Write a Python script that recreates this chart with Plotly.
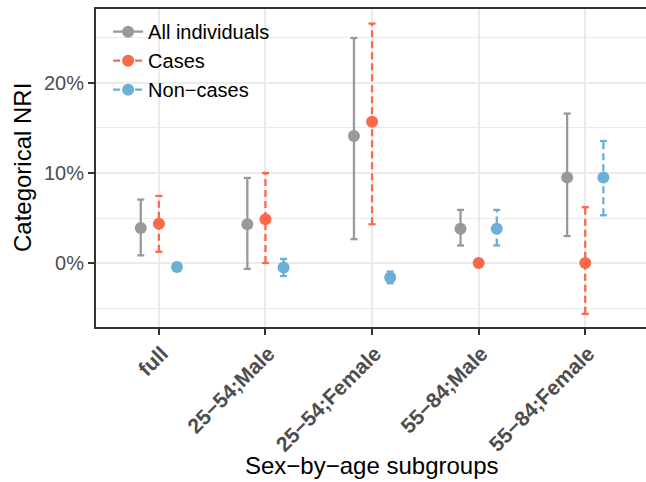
import plotly.graph_objects as go

categories = ["full", "25−54;Male", "25−54;Female", "55−84;Male", "55−84;Female"]
series_names = ["All individuals", "Cases", "Non−cases"]

all_est = [3.9, 4.3, 14.1, 3.8, 9.5]
all_lo = [0.85, -0.65, 2.65, 1.95, 3.0]
all_hi = [7.05, 9.45, 25.0, 5.9, 16.6]

cases_est = [4.35, 4.85, 15.7, 0.0, 0.0]
cases_lo = [1.25, 0.0, 4.3, 0.0, -5.65]
cases_hi = [7.45, 10.0, 26.6, 0.0, 6.2]

non_est = [-0.45, -0.5, -1.6, 3.8, 9.5]
non_lo = [-0.85, -1.45, -2.25, 1.95, 5.3]
non_hi = [-0.05, 0.45, -0.95, 5.9, 13.55]

colors = ["#999999", "#F9694A", "#6BAED6"]
dashes = ["solid", "7px,4px", "7px,4px"]
offsets = [-0.17, 0.0, 0.17]
cap_half = 0.033

fig = go.Figure()

series = [
    (all_est, all_lo, all_hi),
    (cases_est, cases_lo, cases_hi),
    (non_est, non_lo, non_hi),
]

for s, (est, lo, hi) in enumerate(series):
    col = colors[s]
    xs = [i + offsets[s] for i in range(len(categories))]
    vx, vy, cx, cy = [], [], [], []
    for x, l, h in zip(xs, lo, hi):
        if h - l <= 0:
            continue
        vx += [x, x, None]
        vy += [l / 100, h / 100, None]
        cx += [x - cap_half, x + cap_half, None, x - cap_half, x + cap_half, None]
        cy += [l / 100, l / 100, None, h / 100, h / 100, None]
    fig.add_trace(go.Scatter(x=vx, y=vy, mode="lines", showlegend=False,
                             line=dict(color=col, width=2.3, dash=dashes[s]),
                             hoverinfo="skip"))
    fig.add_trace(go.Scatter(x=cx, y=cy, mode="lines", showlegend=False,
                             line=dict(color=col, width=2.3),
                             hoverinfo="skip"))

for s, (est, lo, hi) in enumerate(series):
    xs = [i + offsets[s] for i in range(len(categories))]
    fig.add_trace(go.Scatter(x=xs, y=[v / 100 for v in est], mode="markers",
                             showlegend=False,
                             marker=dict(color=colors[s], size=12)))

for s, name in enumerate(series_names):
    fig.add_trace(go.Scatter(x=[None], y=[None], mode="lines+markers", name=name,
                             line=dict(color=colors[s], width=2.3, dash=dashes[s]),
                             marker=dict(color=colors[s], size=12)))

axis_line = "#333333"
grid = "#EBEBEB"
fig.update_layout(
    width=646, height=482,
    margin=dict(l=96, r=0, t=9, b=155, autoexpand=False),
    plot_bgcolor="white", paper_bgcolor="white",
    font=dict(family="Liberation Sans, Arial, sans-serif", color="black"),
    showlegend=True,
    legend=dict(x=0.022, y=0.99, xanchor="left", yanchor="top",
                bgcolor="rgba(0,0,0,0)", font=dict(size=20, color="black"),
                itemwidth=30, tracegroupgap=0),
    xaxis=dict(
        range=[-0.59, 4.57], automargin=False,
        tickmode="array", tickvals=list(range(len(categories))), ticktext=categories,
        tickangle=-45, ticklabelshift=3, ticklabelstandoff=-2,
        tickfont=dict(size=21, color="#4D4D4D", weight="bold"),
        showgrid=True, gridcolor=grid, gridwidth=2,
        showline=True, linecolor=axis_line, linewidth=2, mirror=True,
        ticks="outside", ticklen=6, tickcolor=axis_line, tickwidth=2,
        zeroline=False,
    ),
    yaxis=dict(
        range=[-0.0711, 0.2822], automargin=False,
        tickmode="array", tickvals=[0, 0.1, 0.2], ticktext=["0%", "10%", "20%"],
        tickfont=dict(size=20, color="#4D4D4D"),
        showgrid=True, gridcolor=grid, gridwidth=2,
        minor=dict(tickmode="array", tickvals=[-0.05, 0.05, 0.15, 0.25],
                   showgrid=True, gridcolor=grid, gridwidth=1, ticks=""),
        showline=True, linecolor=axis_line, linewidth=2,
        ticks="outside", ticklen=6, tickcolor=axis_line, tickwidth=2,
        zeroline=False,
    ),
    annotations=[
        dict(text="Sex−by−age subgroups", xref="paper", yref="paper",
             x=0.502, y=-0.437, xanchor="center", yanchor="middle",
             showarrow=False, font=dict(size=24, color="black")),
        dict(text="Categorical NRI", xref="paper", yref="paper",
             x=-0.1345, y=0.5, xanchor="center", yanchor="middle", textangle=-90,
             showarrow=False, font=dict(size=24, color="black")),
    ],
)

fig.write_html(
    "out.html",
    config={"displayModeBar": False},
    post_script="document.body.style.margin='0px';document.body.style.overflow='hidden';",
)
